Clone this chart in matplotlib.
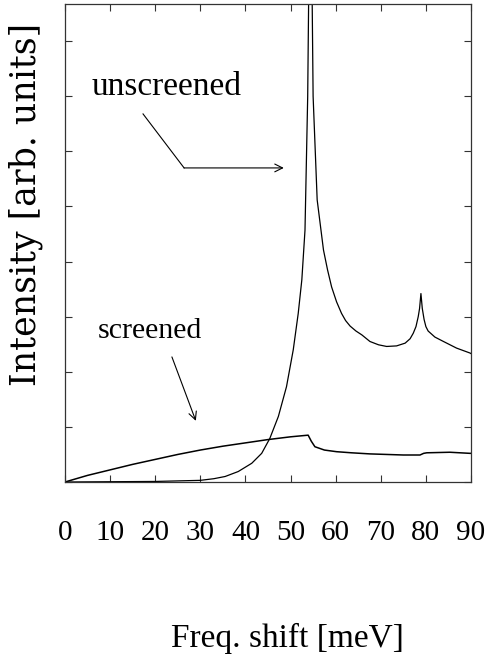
'''
Raman intensity: screened vs unscreened
'''
import numpy as np
import matplotlib
matplotlib.use('Agg')
import matplotlib.pyplot as plt

# unscreened spectrum
x_unscr = [0, 10, 20, 25, 30, 33, 35.5, 38.4, 41.4, 43.6, 45.4, 47.3, 49.1, 50.6, 51.7, 52.5,
           53.2, 53.8, 54.4, 55.0, 55.9, 57.3, 58.2, 59.1, 60.2, 61.3, 62.2, 63.2, 64.5, 65.8,
           67.6, 69.5, 71.3, 73.5, 75.4, 76.5, 77.2, 77.8, 78.3, 78.6, 78.9, 79.2, 79.6, 80.0,
           80.5, 82.0, 83.9, 86.8, 89.8, 90]
y_unscr = [0, 0.005, 0.01, 0.02, 0.03, 0.06, 0.10, 0.19, 0.34, 0.52, 0.79, 1.19, 1.73, 2.40, 3.06, 3.67,
           4.57, 7.0, 12.0, 7.0, 5.12, 4.21, 3.85, 3.54, 3.27, 3.06, 2.93, 2.83, 2.74, 2.67,
           2.55, 2.49, 2.46, 2.47, 2.52, 2.60, 2.70, 2.82, 3.0, 3.15, 3.42, 3.15, 2.95, 2.82,
           2.74, 2.63, 2.55, 2.43, 2.34, 2.33]

# screened spectrum
x_scr = [0, 5, 10, 15, 20, 25, 30, 35, 40, 45, 50, 53.9, 54.6, 55.4, 57.5, 60.2, 63.5, 67.6,
         75.0, 78.7, 79.5, 80.2, 85.3, 89.8, 90]
y_scr = [0, 0.12, 0.22, 0.32, 0.41, 0.50, 0.58, 0.65, 0.71, 0.77, 0.82, 0.85, 0.74, 0.64, 0.58,
         0.55, 0.53, 0.51, 0.49, 0.49, 0.52, 0.53, 0.54, 0.52, 0.52]

xticks = [0, 10, 20, 30, 40, 50, 60, 70, 80, 90]
xticklabels = ['0', '10', '20', '30', '40', '50', '60', '70', '80', '90']
yticks = [0, 1, 2, 3, 4, 5, 6, 7, 8]

serif = 'Liberation Serif'

fig = plt.figure(figsize=(4.88, 6.71), dpi=100)
ax = fig.add_axes([65/488, 1-482/671, 406/488, 478/671])

ax.plot(x_unscr, y_unscr, c='k', linewidth=0.9)
ax.plot(x_scr, y_scr, c='k', linewidth=1.1)

ax.set_xlim(0, 90)
ax.set_ylim(0, 478/55.1)
ax.set_xticks(xticks)
ax.set_xticklabels(xticklabels, fontsize=21, fontfamily=serif)
ax.set_yticks(yticks)
ax.set_yticklabels([])
ax.tick_params(direction='in', length=5, width=0.8, top=True, right=True, pad=27, color='#333333')
for s in ax.spines.values():
    s.set_linewidth(0.9)
    s.set_color('#333333')

ax.set_xlabel('Freq. shift [meV]', fontsize=24, fontfamily=serif)
ax.xaxis.set_label_coords((287-65)/406, -0.295)
fig.text(26/488, 1-204/671, 'Intensity [arb. units]', rotation=90, ha='center', va='center',
         fontsize=25, fontfamily='DejaVu Serif')

# labels and arrows
ax.text(6.0, 7.02, 'unscreened', fontsize=24, fontfamily=serif, va='baseline')
ax.plot([17.3, 26.4], [6.68, 5.70], c='k', linewidth=0.8)
ax.annotate('', xy=(48.5, 5.70), xytext=(26.4, 5.70),
            arrowprops=dict(arrowstyle='->', lw=0.8, mutation_scale=14, shrinkA=0, shrinkB=0))

ax.text(7.3, 2.61, 'screened', fontsize=21.5, fontfamily=serif, va='baseline')
ax.annotate('', xy=(29.0, 1.11), xytext=(23.7, 2.27),
            arrowprops=dict(arrowstyle='->', lw=0.8, mutation_scale=14, shrinkA=0, shrinkB=0))

plt.savefig('out.png', dpi=100)
